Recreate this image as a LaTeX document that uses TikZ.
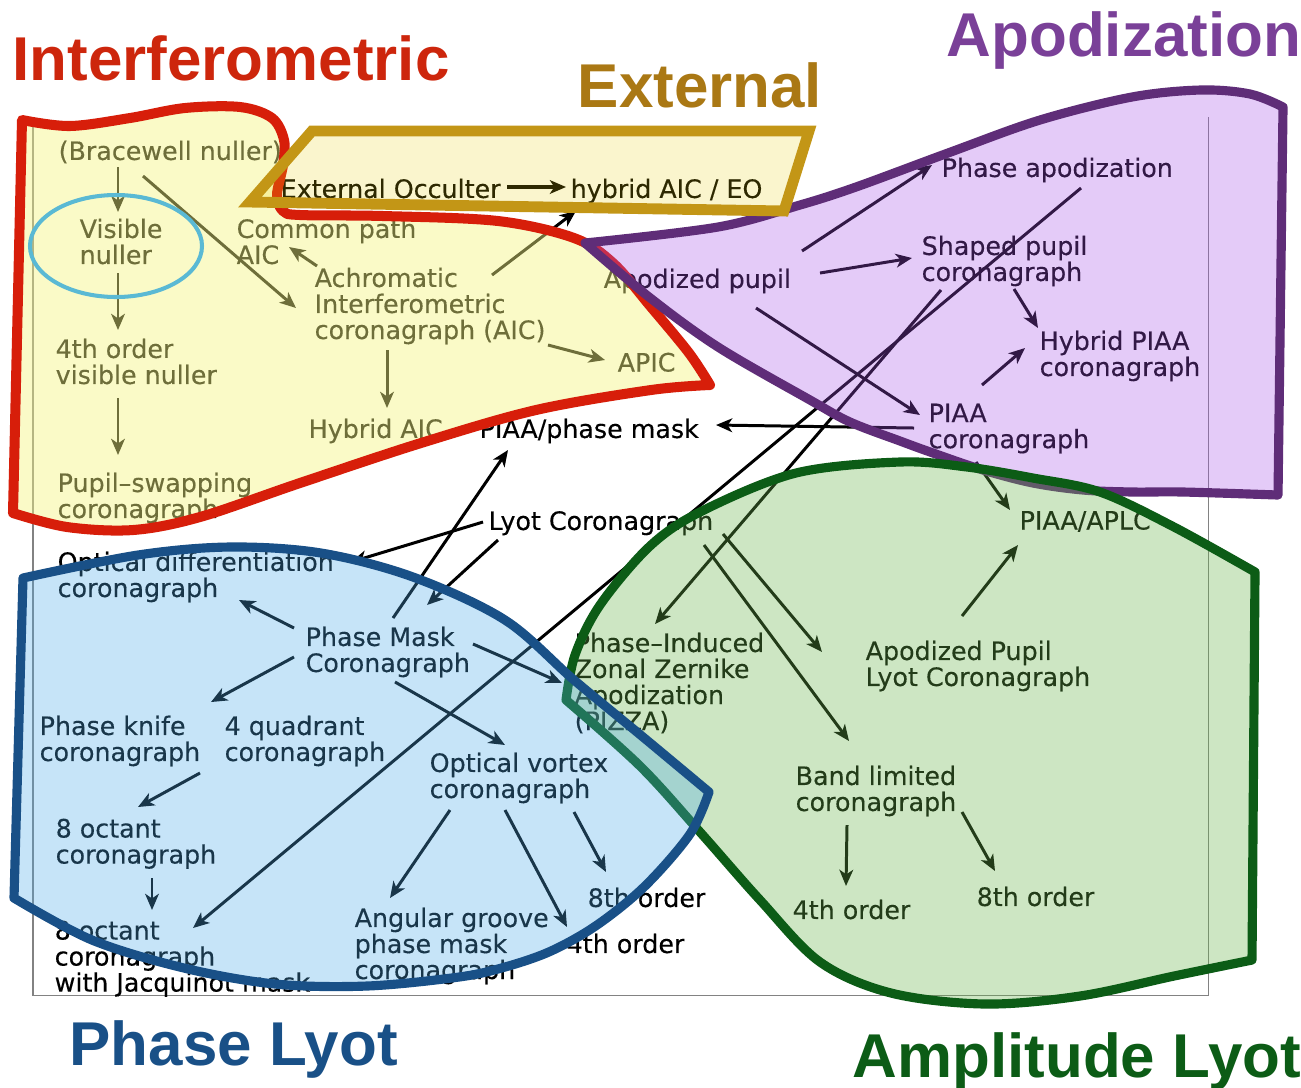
\documentclass[tikz,border=0pt]{standalone}
\usepackage{fontspec}
\setmainfont{DejaVu Sans}[FakeBold=0.3]
\newfontfamily\titlefont{Liberation Sans}
\usetikzlibrary{arrows.meta}

\definecolor{intred}{RGB}{215,30,10}
\definecolor{inttitle}{RGB}{205,38,12}
\definecolor{intfill}{RGB}{244,244,130}
\definecolor{extgold}{RGB}{195,150,22}
\definecolor{exttitle}{RGB}{170,120,20}
\definecolor{extfill}{RGB}{230,205,5}
\definecolor{apopurple}{RGB}{95,45,120}
\definecolor{apotitle}{RGB}{122,64,152}
\definecolor{apofill}{RGB}{166,83,232}
\definecolor{ampgreen}{RGB}{12,92,22}
\definecolor{ampfill}{RGB}{105,180,75}
\definecolor{phblue}{RGB}{25,80,135}
\definecolor{phfill}{RGB}{78,171,233}
\definecolor{nullcyan}{RGB}{90,185,212}
\definecolor{framegray}{RGB}{130,130,130}

\begin{document}
\begin{tikzpicture}[x=0.01cm, y=-0.01cm,
  item/.style={anchor=north west, inner sep=0pt, align=left, font=\fontsize{7.2}{7.4}\selectfont},
  flow/.style={-{Stealth[length=4.6pt,width=3.9pt,inset=1.3pt]}, line width=0.85pt},
  title/.style={anchor=base west, inner sep=0pt, font=\titlefont\bfseries\fontsize{17.6}{20}\selectfont},
  blob/.style={line width=2.6pt, line join=round},
]
\useasboundingbox (0,0) rectangle (1301,1087);

% frame of the chart
\draw[framegray, line width=0.3pt] (33,117) -- (33,995) -- (1208,995) -- (1208,117);

% interferometric
\node[item] (brace) at (58,140) {(Bracewell nuller)};
\node[item] (visible) at (79,218) {Visible\\nuller};
\node[item] (fourth) at (55,338) {4th order\\visible nuller};
\node[item] (swap) at (57,472) {Pupil--swapping\\coronagraph};
\node[item] (common) at (236,218) {Common path\\AIC};
\node[item] (aic) at (314,267) {Achromatic\\Interferometric\\coronagraph (AIC)};
\node[item] (apic) at (617,352) {APIC};
\node[item] (hybaic) at (308,418) {Hybrid AIC};

% external
\node[item] (extocc) at (280,178) {External Occulter};
\node[item] (hybeo) at (570,178) {hybrid AIC / EO};

% apodization
\node[item] (phapod) at (941,157) {Phase apodization};
\node[item] (appupil) at (603,268) {Apodized pupil};
\node[item] (shaped) at (921,235) {Shaped pupil\\coronagraph};
\node[item] (hybpiaa) at (1039,330) {Hybrid PIAA\\coronagraph};
\node[item] (piaa) at (928,403) {PIAA\\coronagraph};

% middle
\node[item] (piaapm) at (479,418) {PIAA/phase mask};
\node[item] (lyot) at (488,510) {Lyot Coronagraph};
\node[item] (optdiff) at (57,551) {Optical differentiation\\coronagraph};

% phase lyot
\node[item] (pmc) at (305,626) {Phase Mask\\Coronagraph};
\node[item] (knife) at (39,715) {Phase knife\\coronagraph};
\node[item] (quad) at (224,715) {4 quadrant\\coronagraph};
\node[item] (vortex) at (429,752) {Optical vortex\\coronagraph};
\node[item] (octant) at (55,818) {8 octant\\coronagraph};
\node[item] (jacq) at (54,920) {8 octant\\coronagraph\\with Jacquinot mask};
\node[item] (groove) at (354,907) {Angular groove\\phase mask\\coronagraph};
\node[item] (veight) at (587,887) {8th order};
\node[item] (vfour) at (566,933) {4th order};

% amplitude lyot
\node[item] (pizza) at (574,632) {Phase--Induced\\Zonal Zernike\\Apodization\\(PIZZA)};
\node[item] (aplc) at (865,640) {Apodized Pupil\\Lyot Coronagraph};
\node[item] (band) at (795,765) {Band limited\\coronagraph};
\node[item] (bfour) at (792,899) {4th order};
\node[item] (beight) at (976,886) {8th order};
\node[item] (piaaaplc) at (1019,510) {PIAA/APLC};

% arrows
\draw[flow] ([shift={(60,27)}]brace.north west) -- ([shift={(39,-6)}]visible.north west);
\draw[flow] ([shift={(85,36)}]brace.north west) -- ([shift={(-18,41)}]aic.north west);
\draw[flow] ([shift={(39,55)}]visible.north west) -- ([shift={(63,-8)}]fourth.north west);
\draw[flow] ([shift={(63,60)}]fourth.north west) -- ([shift={(61,-17)}]swap.north west);
\draw[flow] ([shift={(3,-1)}]aic.north west) -- ([shift={(53,29)}]common.north west);
\draw[flow] ([shift={(234,78)}]aic.north west) -- ([shift={(-12,8)}]apic.north west);
\draw[flow] ([shift={(73,83)}]aic.north west) -- ([shift={(79,-10)}]hybaic.north west);
\draw[flow] ([shift={(178,8)}]aic.north west) -- ([shift={(6,33)}]hybeo.north west);
\draw[flow, line width=1.15pt] ([shift={(227,9)}]extocc.north west) -- ([shift={(-4,9)}]hybeo.north west);

\draw[flow] ([shift={(199,-17)}]appupil.north west) -- ([shift={(-9,8)}]phapod.north west);
\draw[flow] ([shift={(217,5)}]appupil.north west) -- ([shift={(-9,23)}]shaped.north west);
\draw[flow] ([shift={(153,40)}]appupil.north west) -- ([shift={(-8,12)}]piaa.north west);
\draw[flow] ([shift={(93,54)}]shaped.north west) -- ([shift={(-1,-2)}]hybpiaa.north west);
\draw[flow] ([shift={(54,-18)}]piaa.north west) -- ([shift={(-14,18)}]hybpiaa.north west);
\draw[flow] ([shift={(-14,25)}]piaa.north west) -- ([shift={(237,7)}]piaapm.north west);
\draw[flow] ([shift={(20,55)}]shaped.north west) -- ([shift={(81,-8)}]pizza.north west);
\draw[flow] ([shift={(140,31)}]phapod.north west) -- ([shift={(139,8)}]jacq.north west);
\draw[flow] ([shift={(48,59)}]piaa.north west) -- ([shift={(-9,0)}]piaaaplc.north west);

\draw[flow] ([shift={(-5,12)}]lyot.north west) -- ([shift={(294,11)}]optdiff.north west);
\draw[flow] ([shift={(10,30)}]lyot.north west) -- ([shift={(122,-21)}]pmc.north west);
\draw[flow] ([shift={(88,-8)}]pmc.north west) -- ([shift={(29,32)}]piaapm.north west);
\draw[flow] ([shift={(235,24)}]lyot.north west) -- ([shift={(-43,12)}]aplc.north west);
\draw[flow] ([shift={(216,35)}]lyot.north west) -- ([shift={(54,-24)}]band.north west);
\draw[flow] ([shift={(97,-24)}]aplc.north west) -- ([shift={(-1,35)}]piaaaplc.north west);
\draw[flow] ([shift={(52,60)}]band.north west) -- ([shift={(54,-13)}]bfour.north west);
\draw[flow] ([shift={(167,47)}]band.north west) -- ([shift={(19,-15)}]beight.north west);

\draw[flow] ([shift={(-11,2)}]pmc.north west) -- ([shift={(182,49)}]optdiff.north west);
\draw[flow] ([shift={(-11,31)}]pmc.north west) -- ([shift={(172,-13)}]knife.north west);
\draw[flow] ([shift={(90,56)}]pmc.north west) -- ([shift={(76,-7)}]vortex.north west);
\draw[flow] ([shift={(168,18)}]pmc.north west) -- ([shift={(-12,51)}]pizza.north west);
\draw[flow] ([shift={(161,58)}]knife.north west) -- ([shift={(83,-11)}]octant.north west);
\draw[flow] ([shift={(97,60)}]octant.north west) -- ([shift={(98,-10)}]jacq.north west);
\draw[flow] ([shift={(21,58)}]vortex.north west) -- ([shift={(36,-9)}]groove.north west);
\draw[flow] ([shift={(76,58)}]vortex.north west) -- ([shift={(1,-6)}]vfour.north west);
\draw[flow] ([shift={(145,60)}]vortex.north west) -- ([shift={(19,-15)}]veight.north west);

% coloured groups laid over the chart
\filldraw[draw=intred, fill=intfill, fill opacity=0.45, line width=2.85pt, line join=round]
  plot[smooth, tension=0.55] coordinates {(22,120) (70,126) (130,118) (185,108) (240,107) (272,118) (284,140) (283,165) (277,195) (283,211) (300,215) (383,216) (498,221) (574,238) (613,263) (651,307) (689,353) (710,385)}
  -- plot[smooth, tension=0.55] coordinates {(710,385) (651,390) (536,410) (421,443) (300,483) (200,517) (133,530) (67,527) (13,513)}
  -- cycle;
\draw[nullcyan, line width=1.15pt] (116,246) ellipse [x radius=86, y radius=51];

\filldraw[blob, draw=apopurple, fill=apofill, fill opacity=0.30]
  plot[smooth, tension=0.55] coordinates {(585,243) (718,227) (800,205) (856,187) (948,153) (1040,120) (1132,97) (1201,90) (1250,94) (1283,107)}
  -- (1278,495)
  -- plot[smooth, tension=0.55] coordinates {(1278,495) (1183,492) (1133,492) (1083,490) (1033,483) (983,470) (933,453) (900,441) (850,422) (810,400) (718,347) (649,297) (585,243)}
  -- cycle;

\filldraw[draw=extgold, fill=extfill, fill opacity=0.2, line width=3.1pt, line join=miter]
  (312,131) -- (809,131) -- (784,211) -- (250,202) -- cycle;

\filldraw[blob, draw=ampgreen, fill=ampfill, fill opacity=0.333]
  plot[smooth, tension=0.55] coordinates {(566,700) (575,655) (600,605) (650,546) (702,511) (796,473) (900,462) (967,467) (1033,478) (1100,492) (1174,527) (1255,572)}
  -- (1252,960)
  -- plot[smooth, tension=0.55] coordinates {(1252,960) (1174,976) (1080,996) (985,1004) (891,993) (820,962) (760,900) (700,832) (640,766) (566,700)}
  -- cycle;

\filldraw[blob, draw=phblue, fill=phfill, fill opacity=0.32]
  plot[smooth, tension=0.55] coordinates {(23,578) (138,555) (230,547) (321,553) (413,577) (505,620) (574,680) (643,737) (709,792)}
  -- plot[smooth, tension=0.55] coordinates {(709,792) (690,834) (645,886) (597,925) (551,951) (505,967) (459,977) (367,986) (275,984) (184,968) (92,940) (14,898)}
  -- cycle;

% group titles
\node[title, text=inttitle] (hdint) at (12,80) {Interferometric};
\node[title, text=exttitle] (hdext) at (577,107) {External};
\node[title, text=apotitle] (hdapo) at (946,56) {Apodization};
\node[title, text=phblue] (hdphase) at (69,1065) {Phase Lyot};
\node[title, text=ampgreen] (hdamp) at (852,1077) {Amplitude Lyot};

\end{tikzpicture}
\end{document}
